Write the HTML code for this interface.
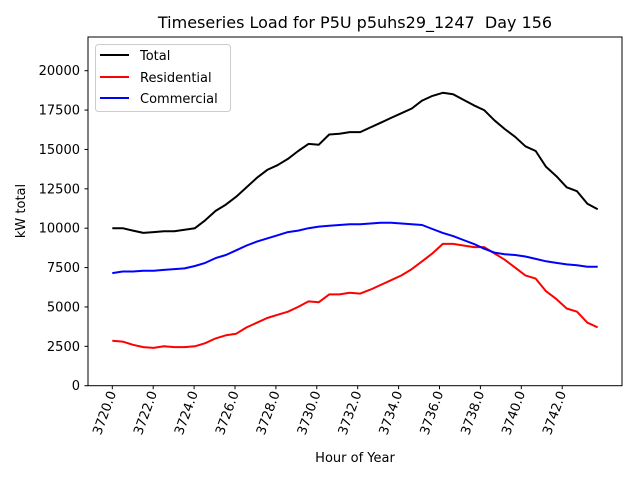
<!DOCTYPE html>
<html><head><meta charset="utf-8"><style>
body{margin:0;background:#fff}
svg text{font-family:"DejaVu Sans","Liberation Sans",sans-serif;fill:#000}
</style></head><body>
<svg id="chart" width="640" height="480" viewBox="0 0 640 480">
<text x="355" y="28" font-size="16" text-anchor="middle" style="white-space:pre">Timeseries Load for P5U p5uhs29_1247&#160; Day 156</text>
<text x="355" y="462" font-size="13" text-anchor="middle">Hour of Year</text>
<text transform="translate(25,211) rotate(-90)" font-size="13" text-anchor="middle">kW total</text>
<g id="ticks"></g>
<g id="series"></g>
<rect x="88" y="37" width="534" height="348.7" fill="none" stroke="#000" stroke-width="1"/>
<g>
<rect x="95.5" y="44.5" width="135" height="67" rx="3" fill="#fff" fill-opacity="0.8" stroke="#ccc"/>
<line x1="100" y1="55" x2="129" y2="55" stroke="#000" stroke-width="2"/>
<text x="140" y="60" font-size="13">Total</text>
<line x1="100" y1="77" x2="129" y2="77" stroke="#f00" stroke-width="2"/>
<text x="140" y="82" font-size="13">Residential</text>
<line x1="100" y1="98" x2="129" y2="98" stroke="#00f" stroke-width="2"/>
<text x="140" y="103" font-size="13">Commercial</text>
</g>
</svg>
<script>
const startHour = 3720;
const stepHour = 0.505;
const totalLoad = [10000,10000,9850,9700,9750,9800,9800,9900,10000,10500,11100,11500,12000,12600,13200,13700,14000,14400,14900,15350,15300,15950,16000,16100,16100,16400,16700,17000,17300,17600,18100,18400,18600,18500,18150,17800,17500,16850,16300,15800,15200,14900,13900,13300,12600,12350,11550,11200];
const residentialLoad = [2850,2800,2600,2450,2400,2500,2450,2450,2500,2700,3000,3200,3300,3700,4000,4300,4500,4700,5000,5350,5300,5800,5800,5900,5850,6100,6400,6700,7000,7400,7900,8400,9000,9000,8900,8800,8800,8400,8000,7500,7000,6800,6000,5500,4900,4700,4000,3700];
const commercialLoad = [7150,7250,7250,7300,7300,7350,7400,7450,7600,7800,8100,8300,8600,8900,9150,9350,9550,9750,9850,10000,10100,10150,10200,10250,10250,10300,10350,10350,10300,10250,10200,9950,9700,9500,9250,9000,8700,8450,8350,8300,8200,8050,7900,7800,7700,7650,7550,7550];
const xTicks = [3720,3722,3724,3726,3728,3730,3732,3734,3736,3738,3740,3742];
const yTicks = [0,2500,5000,7500,10000,12500,15000,17500,20000];

const NS = "http://www.w3.org/2000/svg";
function xScale(h){ return 112.3 + (h - 3720) * 20.45; }
function yScale(v){ return 385.7 - v * 0.01575; }
function mk(tag, attrs){ const e = document.createElementNS(NS, tag); for (const k in attrs) e.setAttribute(k, attrs[k]); return e; }

const tg = document.getElementById('ticks');
yTicks.forEach(v => {
  const y = yScale(v);
  const t = mk('line', {x1:84.5, x2:88, y1:y, y2:y, stroke:'#000'});
  
  
  tg.appendChild(t);
  const l = mk('text', {x:80, y:y+4.5, 'font-size':13, 'text-anchor':'end'});
  
  
  l.textContent = v;
  tg.appendChild(l);
});
xTicks.forEach(h => {
  const x = xScale(h);
  const t = mk('line', {x1:x, x2:x, y1:385.7, y2:389.2, stroke:'#000'});
  
  
  tg.appendChild(t);
  const l = mk('text', {transform:'translate(' + (x+4) + ',393) rotate(-70)', 'font-size':13, 'text-anchor':'end'});
  
  
  l.textContent = h.toFixed(1);
  tg.appendChild(l);
});

const sg = document.getElementById('series');
function draw(arr, color, name){
  const pts = arr.map((v,i) => xScale(startHour + i*stepHour).toFixed(1) + ',' + yScale(v).toFixed(1)).join(' ');
  const p = mk('polyline', {points:pts, fill:'none', stroke:color, 'stroke-width':2, 'stroke-linejoin':'round'});
  
  
  sg.appendChild(p);
}
draw(totalLoad, '#000', 'total-line');
draw(residentialLoad, '#f00', 'residential-line');
draw(commercialLoad, '#00f', 'commercial-line');
</script>
</body></html>
